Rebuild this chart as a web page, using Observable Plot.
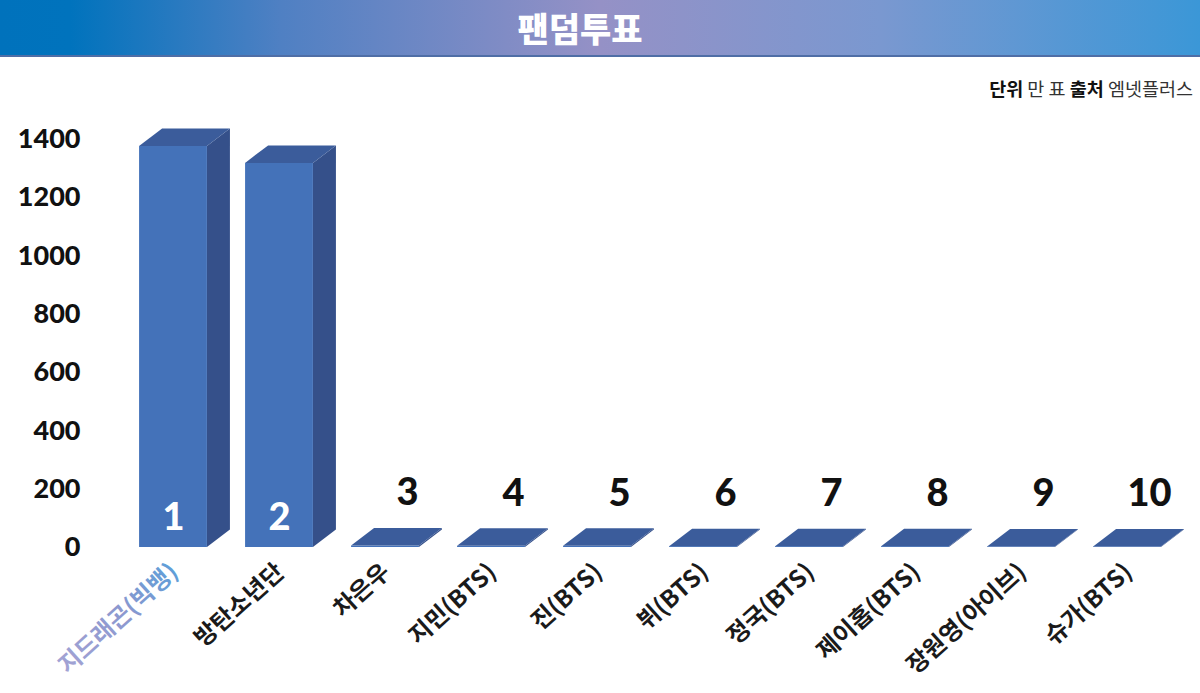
<!DOCTYPE html>
<html><head><meta charset="utf-8">
<script src="https://cdn.jsdelivr.net/npm/d3@7"></script>
<script src="https://cdn.jsdelivr.net/npm/@observablehq/plot@0.6"></script>
<style>
body{margin:0;background:#fff;width:1200px;height:693px;overflow:hidden;position:relative;font-family:"Noto Sans CJK KR",sans-serif}
#header{position:absolute;left:0;top:0;width:1200px;height:57px;border-bottom:2px solid #4f6ea6;
 background:linear-gradient(90deg,#0072bc 0px,#0073bd 70px,#4f80c3 280px,#9591c6 600px,#7a98d0 880px,#3b97d7 1200px);
 color:#fff;text-align:center;font-weight:900;font-size:34px;line-height:56px;box-sizing:border-box;padding-right:40px}
#unit{position:absolute;right:7px;top:75px;font-size:18.5px;color:#333;white-space:nowrap}
#unit b{color:#111;font-weight:700}
#chart{position:absolute;left:0;top:59px}
</style></head>
<body>
<div id="header">팬덤투표</div>
<div id="unit"><b>단위</b> 만 표 <b>출처</b> 엠넷플러스</div>
<div id="chart"></div>
<script>
const names = ["지드래곤(빅뱅)","방탄소년단","차은우","지민(BTS)","진(BTS)","뷔(BTS)","정국(BTS)","제이홉(BTS)","장원영(아이브)","슈가(BTS)"];
const ranks = [1,2,3,4,5,6,7,8,9,10];
const votes = [1376, 1318, 5, 4, 4, 3, 3, 3, 2, 2];
const yTicks = [0,200,400,600,800,1000,1200,1400];

const rows = names.map((n,i)=>({i, name:n, rank:ranks[i], v:votes[i]}));
const HW = 0.32, DX = 0.217, DY = 60;
const side = rows.flatMap(d=>[{i:d.i, x:d.i+HW, y1:0, y2:d.v},{i:d.i, x:d.i+HW+DX, y1:DY, y2:d.v+DY}]);
const topF = rows.flatMap(d=>[{i:d.i, y:d.v, x1:d.i-HW, x2:d.i+HW},{i:d.i, y:d.v+DY, x1:d.i-HW+DX, x2:d.i+HW+DX}]);
const inside = rows.filter(d=>d.v>200);
const above = rows.filter(d=>d.v<=200);

const chart = Plot.plot({
  width:1200, height:634,
  marginLeft:120, marginRight:20, marginTop:80, marginBottom:146,
  x:{type:"linear", domain:[-0.5,9.5], axis:null},
  y:{domain:[0,1400], axis:null},
  marks:[
    Plot.axisY({ticks:yTicks, tickFormat:d=>String(d), tickSize:0, tickPadding:40, label:null, fontSize:27, fontWeight:900, fontFamily:"Lato", fill:"#111"}),
    Plot.areaY(side, {x:"x", y1:"y1", y2:"y2", z:"i", fill:"#35508a"}),
    Plot.rect(rows, {x1:d=>d.i-HW, x2:d=>d.i+HW, y1:0, y2:"v", fill:"#4472b9"}),
    Plot.areaX(topF, {y:"y", x1:"x1", x2:"x2", z:"i", fill:"#3b5c9b"}),
    Plot.text(inside, {x:"i", y:0, text:d=>String(d.rank), dy:-30, fill:"#fff", fontSize:38, fontWeight:900, fontFamily:"Lato"}),
    Plot.text(above, {x:"i", y:"v", text:d=>String(d.rank), dx:22, dy:-53, fill:"#111", fontSize:38, fontWeight:900, fontFamily:"Lato"}),
    Plot.text(rows, {x:"i", y:0, text:"name", dx:1, dy:21, rotate:-42, textAnchor:"end", fill:"#1a1a1a", fontSize:24, fontWeight:700, fontFamily:"Noto Sans CJK KR", className:"xlab"})
  ]
});
document.getElementById("chart").append(chart);

// gradient fill for the first category label
const svg = d3.select(chart.tagName.toLowerCase()==="svg" ? chart : chart.querySelector("svg"));
const defs = svg.insert("defs", ":first-child");
const g = defs.append("linearGradient").attr("id","lblgrad").attr("x1","0").attr("x2","1").attr("y1","0").attr("y2","0");
g.append("stop").attr("offset","0").attr("stop-color","#a3a3d4");
g.append("stop").attr("offset","0.55").attr("stop-color","#8c98cf");
g.append("stop").attr("offset","1").attr("stop-color","#5f9ed8");
svg.selectAll("g.xlab text").filter((d,k)=>k===0).attr("fill","url(#lblgrad)");
</script>
</body></html>
